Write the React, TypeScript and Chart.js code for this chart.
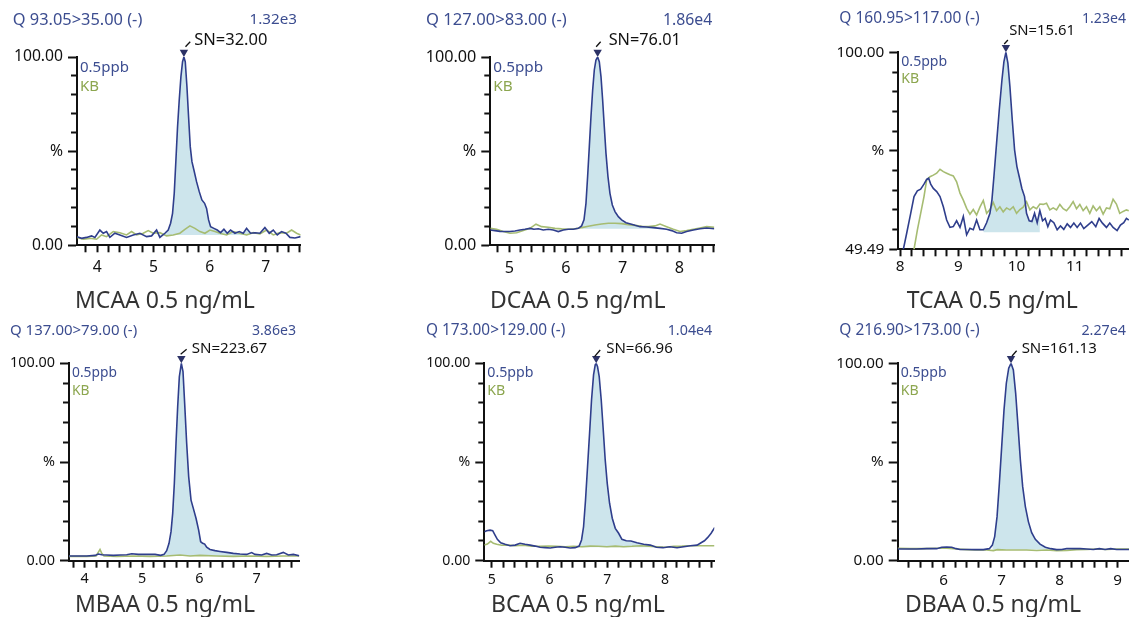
import React, { useEffect, useRef } from 'react';
import { Chart, registerables } from 'chart.js';

Chart.register(...registerables);

// ---------- DATA (retention time [min], relative intensity [%]) ----------
const seriesLabels = ['0.5ppb', 'KB'];

const mcaaSample: [number, number][] = [
  [3.638, 4.6], [3.721, 3.7], [3.810, 4.2], [3.899, 5.0], [3.958, 4.2], [4.047, 8.1], [4.107, 6.4], [4.166, 7.3],
  [4.225, 4.2], [4.314, 6.4], [4.403, 5.5], [4.522, 4.2], [4.641, 5.5], [4.759, 6.4], [4.878, 4.6], [4.967, 5.0],
  [5.056, 8.1], [5.115, 4.2], [5.204, 6.4], [5.263, 8.1], [5.305, 11.7], [5.340, 17.0], [5.370, 27.6], [5.400, 45.3],
  [5.429, 63.0], [5.459, 77.2], [5.489, 89.6], [5.518, 97.5], [5.542, 100], [5.566, 97.5], [5.596, 84.2], [5.625, 68.3],
  [5.655, 52.4], [5.685, 44.4], [5.720, 40.0], [5.767, 33.8], [5.815, 28.5], [5.862, 24.1], [5.910, 22.3], [5.945, 19.6],
  [5.981, 13.5], [6.017, 9.9], [6.076, 9.0], [6.135, 8.1], [6.195, 6.7], [6.254, 8.5], [6.313, 6.4], [6.372, 8.1],
  [6.450, 6.4], [6.527, 7.3], [6.598, 6.4], [6.657, 9.0], [6.728, 6.4], [6.805, 6.7], [6.894, 6.4], [6.983, 9.4],
  [7.060, 6.4], [7.132, 8.1], [7.203, 5.5], [7.280, 7.3], [7.357, 6.4], [7.428, 4.2], [7.517, 3.9], [7.618, 4.6],
];
const mcaaBlank: [number, number][] = [
  [3.638, 4.2], [3.751, 3.2], [3.870, 3.7], [3.988, 3.2], [4.077, 5.5], [4.166, 4.6], [4.285, 7.3], [4.403, 6.7],
  [4.522, 5.5], [4.611, 7.3], [4.700, 5.5], [4.819, 6.4], [4.907, 7.8], [4.996, 6.4], [5.115, 6.7], [5.234, 5.0],
  [5.352, 5.5], [5.471, 6.4], [5.560, 8.5], [5.649, 10.3], [5.738, 9.0], [5.827, 7.3], [5.916, 6.4], [6.005, 8.1],
  [6.094, 7.3], [6.183, 6.4], [6.301, 5.5], [6.420, 7.3], [6.539, 6.4], [6.657, 5.5], [6.776, 6.7], [6.894, 6.0],
  [7.013, 8.1], [7.132, 5.5], [7.250, 6.7], [7.369, 6.4], [7.458, 8.1], [7.547, 6.4], [7.618, 5.5],
];
const mcaaIntegration = [5.1, 6.8, 5.5]; // start, end, baseline

const dcaaSample: [number, number][] = [
  [4.665, 8.1], [4.747, 7.8], [4.835, 7.4], [4.924, 7.3], [5.012, 7.3], [5.100, 7.6], [5.188, 8.1], [5.276, 8.5],
  [5.365, 9.0], [5.435, 8.5], [5.512, 8.8], [5.600, 8.1], [5.688, 8.5], [5.776, 8.1], [5.865, 7.3], [5.953, 8.1],
  [6.041, 8.5], [6.129, 8.5], [6.218, 9.0], [6.276, 10.3], [6.318, 13.5], [6.353, 22.3], [6.382, 36.5], [6.412, 52.4],
  [6.441, 68.3], [6.471, 82.5], [6.500, 93.1], [6.529, 98.4], [6.559, 100], [6.588, 97.5], [6.618, 89.6], [6.647, 77.2],
  [6.676, 63.0], [6.706, 48.8], [6.741, 36.5], [6.776, 27.6], [6.818, 21.4], [6.865, 17.9], [6.924, 15.2], [6.982, 13.5],
  [7.059, 12.0], [7.141, 11.3], [7.218, 10.6], [7.306, 9.9], [7.424, 9.7], [7.541, 9.4], [7.659, 9.0], [7.776, 8.5],
  [7.865, 7.8], [7.953, 6.7], [8.041, 6.4], [8.129, 7.3], [8.247, 8.1], [8.365, 8.8], [8.482, 9.2], [8.618, 8.8],
];
const dcaaBlank: [number, number][] = [
  [4.665, 9.0], [4.776, 8.5], [4.894, 7.3], [5.012, 6.4], [5.129, 6.7], [5.247, 7.8], [5.365, 9.0], [5.471, 11.2],
  [5.571, 9.9], [5.688, 9.6], [5.806, 9.0], [5.924, 8.7], [6.041, 8.5], [6.159, 8.8], [6.276, 9.4], [6.394, 10.1],
  [6.512, 10.8], [6.629, 11.3], [6.747, 11.7], [6.865, 11.7], [6.982, 11.5], [7.100, 11.0], [7.218, 10.6], [7.335, 10.1],
  [7.453, 9.9], [7.571, 10.3], [7.659, 11.3], [7.776, 9.9], [7.894, 8.5], [8.012, 7.3], [8.129, 7.8], [8.247, 8.5],
  [8.365, 9.2], [8.482, 9.9], [8.618, 9.6],
];
const dcaaIntegration = [6.25, 7.7, 8.8];

const tcaaSample: [number, number][] = [
  [8.011, 47.6], [8.057, 49.5], [8.114, 53.6], [8.183, 58.7], [8.240, 63.0], [8.297, 64.5], [8.354, 64.9], [8.411, 66.2],
  [8.457, 67.4], [8.491, 67.7], [8.526, 66.2], [8.571, 65.1], [8.629, 64.3], [8.686, 63.0], [8.743, 60.4], [8.800, 57.0],
  [8.857, 55.1], [8.914, 55.3], [8.971, 56.8], [9.029, 55.1], [9.086, 57.9], [9.143, 53.2], [9.200, 54.9], [9.257, 54.5],
  [9.314, 57.0], [9.371, 54.5], [9.429, 54.5], [9.486, 56.3], [9.543, 58.7], [9.577, 62.1], [9.611, 68.1], [9.657, 76.7],
  [9.703, 85.2], [9.749, 92.9], [9.783, 97.6], [9.817, 100], [9.851, 97.2], [9.886, 91.2], [9.926, 82.7], [9.966, 75.0],
  [10.006, 70.7], [10.046, 68.1], [10.091, 65.1], [10.137, 63.0], [10.171, 58.7], [10.217, 56.8], [10.263, 56.6], [10.309, 58.7],
  [10.354, 56.3], [10.400, 59.4], [10.446, 56.8], [10.491, 57.4], [10.537, 55.3], [10.583, 57.0], [10.640, 56.3], [10.697, 54.5],
  [10.754, 55.5], [10.811, 54.6], [10.869, 56.0], [10.926, 55.1], [10.983, 56.2], [11.040, 55.1], [11.097, 56.2], [11.154, 54.8],
  [11.223, 55.7], [11.291, 56.6], [11.360, 55.3], [11.417, 57.4], [11.474, 56.2], [11.543, 55.1], [11.600, 56.2], [11.657, 55.1],
  [11.726, 54.3], [11.783, 55.7], [11.840, 56.3], [11.886, 57.4], [11.926, 57.0],
];
const tcaaBlank: [number, number][] = [
  [8.200, 47.6], [8.240, 49.5], [8.297, 54.4], [8.354, 58.7], [8.411, 63.0], [8.457, 67.3], [8.514, 68.1], [8.571, 68.5],
  [8.629, 69.0], [8.686, 70.0], [8.743, 69.4], [8.800, 69.0], [8.857, 68.6], [8.914, 68.3], [8.971, 66.8], [9.029, 63.9],
  [9.086, 62.1], [9.143, 60.0], [9.200, 58.5], [9.257, 59.7], [9.314, 58.3], [9.371, 60.3], [9.429, 62.0], [9.486, 58.7],
  [9.543, 59.7], [9.600, 61.5], [9.657, 59.4], [9.714, 60.4], [9.771, 59.1], [9.829, 60.1], [9.886, 59.6], [9.943, 60.4],
  [10.000, 58.7], [10.057, 59.7], [10.114, 60.3], [10.171, 61.7], [10.229, 59.6], [10.286, 60.4], [10.343, 59.9], [10.400, 61.1],
  [10.457, 61.0], [10.514, 61.3], [10.571, 59.6], [10.629, 60.1], [10.686, 59.6], [10.743, 61.0], [10.800, 59.9], [10.857, 59.4],
  [10.914, 60.4], [10.971, 61.7], [11.029, 59.9], [11.086, 61.0], [11.143, 59.4], [11.200, 60.4], [11.257, 58.7], [11.314, 60.6],
  [11.371, 59.4], [11.429, 60.4], [11.486, 58.5], [11.543, 60.1], [11.600, 59.9], [11.657, 62.3], [11.714, 61.1], [11.771, 58.7],
  [11.829, 59.2], [11.886, 59.6], [11.926, 59.4],
];
const tcaaIntegration = [9.40, 10.43, 53.85];

const mbaaSample: [number, number][] = [
  [3.727, 2.4], [3.860, 2.4], [4.035, 2.4], [4.180, 2.7], [4.238, 3.4], [4.297, 3.0], [4.384, 2.9], [4.500, 2.7],
  [4.616, 2.9], [4.733, 3.0], [4.820, 3.5], [4.936, 3.2], [5.081, 3.2], [5.227, 3.2], [5.326, 2.7], [5.384, 3.2],
  [5.430, 5.1], [5.471, 8.8], [5.506, 14.7], [5.535, 24.0], [5.564, 39.2], [5.593, 59.5], [5.622, 78.0], [5.651, 93.2],
  [5.686, 100], [5.715, 95.8], [5.744, 79.7], [5.779, 59.5], [5.814, 42.6], [5.855, 30.7], [5.895, 26.5], [5.942, 21.5],
  [5.988, 15.5], [6.023, 9.6], [6.058, 8.8], [6.093, 8.4], [6.128, 6.8], [6.186, 5.7], [6.273, 5.1], [6.360, 4.7],
  [6.477, 4.2], [6.593, 3.7], [6.709, 3.4], [6.826, 3.2], [6.913, 4.1], [6.971, 3.2], [7.087, 2.9], [7.174, 3.7],
  [7.262, 2.9], [7.349, 3.0], [7.465, 4.2], [7.552, 2.9], [7.640, 3.2], [7.744, 2.5],
];
const mbaaBlank: [number, number][] = [
  [3.727, 2.2], [4.035, 2.2], [4.198, 2.4], [4.244, 4.6], [4.267, 5.7], [4.297, 3.7], [4.337, 2.4], [4.558, 2.2],
  [4.849, 2.4], [5.140, 2.2], [5.430, 2.4], [5.663, 2.9], [5.837, 2.4], [6.012, 2.7], [6.302, 2.4], [6.593, 2.2],
  [6.884, 2.4], [7.174, 2.2], [7.465, 2.4], [7.744, 2.4],
];
const mbaaIntegration = [5.3, 6.9, 2.4];

const bcaaSample: [number, number][] = [
  [4.873, 14.7], [4.913, 15.2], [4.971, 15.5], [5.017, 15.2], [5.058, 13.0], [5.098, 10.8], [5.156, 9.1], [5.231, 8.3],
  [5.318, 7.6], [5.405, 7.9], [5.491, 8.8], [5.578, 8.3], [5.665, 7.9], [5.751, 7.4], [5.838, 6.8], [5.925, 6.6],
  [6.012, 6.4], [6.098, 6.8], [6.185, 7.1], [6.272, 6.8], [6.358, 6.4], [6.445, 6.6], [6.514, 7.4], [6.555, 10.5],
  [6.590, 17.2], [6.624, 30.7], [6.659, 47.6], [6.694, 64.5], [6.728, 81.4], [6.763, 94.1], [6.792, 99.2], [6.809, 100],
  [6.832, 98.3], [6.861, 93.2], [6.896, 81.4], [6.931, 66.2], [6.965, 51.0], [7.000, 39.2], [7.040, 29.1], [7.087, 21.5],
  [7.139, 16.4], [7.197, 13.9], [7.254, 10.8], [7.329, 10.1], [7.410, 10.0], [7.514, 9.1], [7.630, 8.3], [7.746, 7.9],
  [7.850, 6.8], [7.965, 6.6], [8.081, 7.1], [8.208, 6.6], [8.324, 7.1], [8.439, 7.6], [8.555, 7.9], [8.624, 9.1],
  [8.682, 10.1], [8.740, 11.8], [8.798, 13.9], [8.861, 16.9],
];
const bcaaBlank: [number, number][] = [
  [4.873, 7.9], [4.925, 8.4], [4.983, 9.8], [5.029, 8.8], [5.087, 8.3], [5.173, 7.8], [5.289, 7.9], [5.405, 7.6],
  [5.549, 7.9], [5.694, 7.4], [5.838, 7.3], [5.983, 7.4], [6.127, 7.3], [6.272, 7.1], [6.416, 7.3], [6.561, 7.1],
  [6.705, 7.4], [6.850, 7.3], [6.994, 7.1], [7.139, 7.4], [7.283, 7.1], [7.428, 7.3], [7.572, 7.6], [7.717, 7.4],
  [7.861, 7.1], [8.006, 6.8], [8.150, 7.3], [8.295, 7.4], [8.439, 7.6], [8.584, 7.6], [8.728, 7.6], [8.861, 7.6],
];
const bcaaIntegration = [6.5, 7.9, 6.8];

const dbaaSample: [number, number][] = [
  [5.207, 5.9], [5.362, 5.9], [5.534, 5.9], [5.707, 6.1], [5.879, 6.1], [5.966, 6.8], [6.052, 6.9], [6.138, 6.8],
  [6.213, 6.1], [6.282, 5.7], [6.397, 5.7], [6.540, 5.6], [6.684, 5.6], [6.787, 6.1], [6.839, 7.9], [6.879, 12.2],
  [6.920, 22.3], [6.960, 39.2], [7.000, 57.8], [7.040, 76.4], [7.080, 89.9], [7.121, 97.5], [7.161, 100], [7.201, 96.6],
  [7.241, 84.8], [7.282, 67.9], [7.322, 51.0], [7.362, 37.5], [7.408, 27.4], [7.460, 19.8], [7.517, 14.2], [7.580, 10.8],
  [7.661, 8.4], [7.753, 6.8], [7.845, 6.1], [7.948, 5.6], [8.034, 5.7], [8.121, 6.1], [8.236, 6.1], [8.351, 6.1],
  [8.466, 5.9], [8.580, 5.7], [8.684, 6.1], [8.782, 5.7], [8.879, 6.1], [8.983, 5.7], [9.098, 5.7], [9.195, 5.7],
];
const dbaaBlank: [number, number][] = [
  [5.207, 6.3], [5.420, 6.1], [5.649, 6.1], [5.879, 6.3], [6.052, 6.3], [6.224, 5.9], [6.397, 5.6], [6.569, 5.4],
  [6.741, 5.4], [6.856, 5.1], [6.925, 5.6], [7.086, 5.4], [7.259, 5.4], [7.431, 5.4], [7.603, 5.2], [7.776, 5.4],
  [7.948, 5.1], [8.121, 5.2], [8.293, 5.6], [8.466, 5.7], [8.638, 5.9], [8.810, 5.7], [8.983, 5.9], [9.195, 5.9],
];
const dbaaIntegration = [6.8, 8.0, 5.7];

const compoundTitles = ['MCAA 0.5 ng/mL', 'DCAA 0.5 ng/mL', 'TCAA 0.5 ng/mL', 'MBAA 0.5 ng/mL', 'BCAA 0.5 ng/mL', 'DBAA 0.5 ng/mL'];
const transitions = ['Q 93.05>35.00 (-)', 'Q 127.00>83.00 (-)', 'Q 160.95>117.00 (-)', 'Q 137.00>79.00 (-)', 'Q 173.00>129.00 (-)', 'Q 216.90>173.00 (-)'];
const intensities = ['1.32e3', '1.86e4', '1.23e4', '3.86e3', '1.04e4', '2.27e4'];
const snValues = ['SN=32.00', 'SN=76.01', 'SN=15.61', 'SN=223.67', 'SN=66.96', 'SN=161.13'];
const xRanges = [[3.64, 7.62], [4.665, 8.617], [7.97, 11.93], [3.726, 7.744], [4.872, 8.853], [5.207, 9.195]];
const yRanges = [[0, 100], [0, 100], [49.49, 100], [0, 100], [0, 100], [0, 100]];

// ---------- STYLE / LAYOUT ----------
const BLUE_LINE = '#2f3e8c';
const BLUE_TEXT = '#3c4d90';
const GREEN_LINE = '#a6bc72';
const GREEN_TEXT = '#8ca64f';
const FILL = '#cde5ec';
const MARK = '#2c3266';
const AXIS = '#111111';
const FONT = '"Noto Sans", "Open Sans", sans-serif';

type Layout = {
  box: number[]; // canvas left, top, width, height (page px)
  plot: number[]; // plot left, top, right, bottom (page px)
  head: number[]; // left text x, right text x, y
  legendDy: number[];
  title: number[]; // x, baseline y
  xPad: number;
  sn: number[]; // text dx, text dy, slash x1, y1, x2, y2 (relative to apex)
  fs: number[]; // font sizes: header, intensity, legend, ticks, SN label
};

const layouts: Layout[] = [
  { box: [0, 0, 392, 322], plot: [77, 57, 300.7, 245.3], head: [12.7, 297, 20], legendDy: [10.7, 30], title: [75, 308], xPad: 6, sn: [10.3, -16.3, 1.6, -10.3, 6.3, -15.3], fs: [16.4, 15.2, 15, 15.7, 16.5] },
  { box: [400, 0, 392, 322], plot: [490.3, 57, 714.3, 245.3], head: [426, 712.3, 20], legendDy: [10.7, 30], title: [490, 308], xPad: 6, sn: [11, -16.3, -1.5, -10.3, 3, -15.3], fs: [16.6, 15.8, 15.3, 16.2, 16.3] },
  { box: [800, 0, 329, 322], plot: [898.3, 52.3, 1129, 249.3], head: [839.3, 1126, 19], legendDy: [9.4, 26.7], title: [906.7, 308.3], xPad: 1, sn: [3.3, -21.6, -1.7, -8.3, 2, -12.3], fs: [15.5, 14.1, 14.1, 15.3, 14.8] },
  { box: [0, 310, 392, 307], plot: [69, 363.3, 299.3, 560.7], head: [10, 296, 330.7], legendDy: [10, 27.7], title: [75, 611.7], xPad: 2.5, sn: [10.3, -14.3, -0.7, -9, 5.3, -14], fs: [15.0, 14.1, 13.8, 14.4, 15.1] },
  { box: [400, 310, 392, 307], plot: [484.3, 363.3, 714.3, 560.7], head: [426, 712.3, 330.7], legendDy: [10, 27.7], title: [491, 611.7], xPad: 3.5, sn: [10, -14.3, -1.7, -6.6, 4, -13.3], fs: [15.4, 14.3, 14.2, 14.1, 15] },
  { box: [800, 310, 329, 307], plot: [897.7, 363.3, 1129, 560.7], head: [839.3, 1126, 330.7], legendDy: [10, 27.7], title: [905, 611.7], xPad: 3.5, sn: [10.6, -14.3, 1, -7.3, 5.6, -12.6], fs: [15.5, 14.3, 14.1, 15.2, 15] },
];

const samples = [mcaaSample, dcaaSample, tcaaSample, mbaaSample, bcaaSample, dbaaSample];
const blanks = [mcaaBlank, dcaaBlank, tcaaBlank, mbaaBlank, bcaaBlank, dbaaBlank];
const integrations = [mcaaIntegration, dcaaIntegration, tcaaIntegration, mbaaIntegration, bcaaIntegration, dbaaIntegration];

function Panel({ idx }: { idx: number }) {
  const ref = useRef<HTMLCanvasElement | null>(null);
  const L = layouts[idx];

  useEffect(() => {
    const canvas = ref.current;
    if (!canvas) return;
    const [cx, cy, cw, ch] = L.box;
    const [pl, pt, pr, pb] = L.plot;
    const [xMin, xMax] = xRanges[idx];
    const [yMin, yMax] = yRanges[idx];
    const [winStart, winEnd, base] = integrations[idx];
    const [fsHead, fsInt, fsLeg, fsTick, fsSn] = L.fs;

    const sample = samples[idx].map(([x, y]) => ({ x, y }));
    const blank = blanks[idx].map(([x, y]) => ({ x, y }));
    const area = sample.filter((p) => p.x >= winStart && p.x <= winEnd);
    const apex = sample.reduce((a, b) => (b.y > a.y ? b : a));

    const annot = {
      id: 'annot' + idx,
      afterDraw(chart: any) {
        const ctx = chart.ctx as CanvasRenderingContext2D;
        const ca = chart.chartArea;
        ctx.save();
        // header
        ctx.font = `${fsHead}px ${FONT}`;
        ctx.textBaseline = 'middle';
        ctx.fillStyle = BLUE_TEXT;
        ctx.textAlign = 'left';
        ctx.fillText(transitions[idx], L.head[0] - cx, L.head[2] - cy);
        ctx.font = `${fsInt}px ${FONT}`;
        ctx.textAlign = 'right';
        ctx.fillText(intensities[idx], L.head[1] - cx, L.head[2] - cy);
        // in-plot legend
        ctx.font = `${fsLeg}px ${FONT}`;
        ctx.textAlign = 'left';
        ctx.fillStyle = BLUE_TEXT;
        ctx.fillText(seriesLabels[0], ca.left + 3, ca.top + L.legendDy[0]);
        ctx.fillStyle = GREEN_TEXT;
        ctx.fillText(seriesLabels[1], ca.left + 3, ca.top + L.legendDy[1]);
        // title
        ctx.font = `23px ${FONT}`;
        ctx.fillStyle = '#333333';
        ctx.textBaseline = 'alphabetic';
        ctx.fillText(compoundTitles[idx], L.title[0] - cx, L.title[1] - cy);
        // peak marker
        const px = chart.scales.x.getPixelForValue(apex.x);
        const py = chart.scales.y.getPixelForValue(apex.y);
        ctx.fillStyle = MARK;
        ctx.beginPath();
        ctx.moveTo(px, py);
        ctx.lineTo(px - 4.2, py - 7.2);
        ctx.lineTo(px + 4.2, py - 7.2);
        ctx.closePath();
        ctx.fill();
        const s = L.sn;
        ctx.strokeStyle = '#111111';
        ctx.lineWidth = 1.3;
        ctx.beginPath();
        ctx.moveTo(px + s[2], py + s[3]);
        ctx.lineTo(px + s[4], py + s[5]);
        ctx.stroke();
        ctx.font = `${fsSn}px ${FONT}`;
        ctx.fillStyle = '#111111';
        ctx.textBaseline = 'middle';
        ctx.fillText(snValues[idx], px + s[0], py + s[1]);
        ctx.restore();
      },
    };

    const chart = new Chart(canvas, {
      type: 'line',
      data: {
        datasets: [
          {
            label: seriesLabels[0],
            data: sample,
            borderColor: BLUE_LINE,
            borderWidth: 1.6,
            pointRadius: 0,
            tension: 0,
            fill: false,
            order: 0,
          },
          {
            label: seriesLabels[1],
            data: blank,
            borderColor: GREEN_LINE,
            borderWidth: 1.6,
            pointRadius: 0,
            tension: 0,
            fill: false,
            order: 1,
          },
          {
            label: 'area',
            data: area,
            borderWidth: 0,
            borderColor: 'rgba(0,0,0,0)',
            backgroundColor: FILL,
            pointRadius: 0,
            tension: 0,
            fill: { value: base },
            order: 2,
          },
        ],
      },
      options: {
        animation: false,
        responsive: false,
        devicePixelRatio: 1,
        events: [],
        layout: {
          autoPadding: false,
          padding: { left: 0, top: pt - cy, right: cx + cw - pr, bottom: 0 },
        },
        plugins: { legend: { display: false }, tooltip: { enabled: false }, title: { display: false } },
        scales: {
          x: {
            type: 'linear',
            min: xMin,
            max: xMax,
            afterFit: (sc: any) => {
              sc.height = cy + ch - pb;
            },
            afterBuildTicks: (sc: any) => {
              const first = Math.ceil(xMin * 5 - 1e-6);
              const last = Math.floor(xMax * 5 + 1e-6);
              const t: { value: number }[] = [];
              for (let k = first; k <= last; k++) t.push({ value: k / 5 });
              sc.ticks = t;
            },
            ticks: {
              autoSkip: false,
              maxRotation: 0,
              padding: L.xPad,
              color: AXIS,
              font: { size: fsTick, family: FONT },
              callback: (v: any) => {
                const n = Number(v);
                return Math.abs(n - Math.round(n)) < 1e-6 ? String(Math.round(n)) : '';
              },
            },
            grid: { drawOnChartArea: false, tickLength: 7, tickWidth: 2, tickColor: AXIS },
            border: { display: true, color: AXIS, width: 2 },
          },
          y: {
            type: 'linear',
            min: yMin,
            max: yMax,
            afterFit: (sc: any) => {
              sc.width = pl - cx;
            },
            afterBuildTicks: (sc: any) => {
              const t: { value: number }[] = [];
              for (let k = 0; k <= 10; k++) t.push({ value: yMin + ((yMax - yMin) * k) / 10 });
              sc.ticks = t;
            },
            ticks: {
              autoSkip: false,
              padding: 5,
              color: AXIS,
              font: { size: fsTick, family: FONT },
              callback: (_v: any, i: number) => (i === 0 ? yMin.toFixed(2) : i === 5 ? '%' : i === 10 ? yMax.toFixed(2) : ''),
            },
            grid: {
              drawOnChartArea: false,
              tickLength: 9,
              tickWidth: 2,
              tickColor: AXIS,
              tickBorderDash: (c: any) => (c.index % 5 === 0 ? [] : [5, 100]),
              tickBorderDashOffset: (c: any) => (c.index % 5 === 0 ? 0 : 102),
            },
            border: { display: true, color: AXIS, width: 2 },
          },
        },
      },
      plugins: [annot],
    } as any);

    return () => chart.destroy();
  }, [idx]);

  return (
    <canvas
      ref={ref}
      width={L.box[2]}
      height={L.box[3]}
      style={{ position: 'absolute', left: L.box[0], top: L.box[1], width: L.box[2], height: L.box[3] }}
    />
  );
}

export default function App() {
  return (
    <div style={{ position: 'absolute', left: 0, top: 0, width: 1129, height: 617, background: '#ffffff', overflow: 'hidden' }}>
      {layouts.map((_, i) => (
        <Panel key={i} idx={i} />
      ))}
    </div>
  );
}
